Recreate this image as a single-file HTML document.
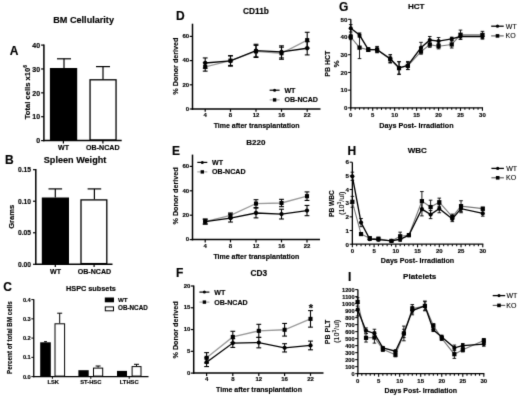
<!DOCTYPE html>
<html><head><meta charset="utf-8"><style>
html,body{margin:0;padding:0;background:#fff;}
svg{display:block;font-family:"Liberation Sans", sans-serif;}
text{font-weight:bold;fill:#000;stroke:#000;stroke-width:0.15;}
line,polyline{stroke:#000;}
.f{fill:#000;}
</style></head><body>
<svg xmlns="http://www.w3.org/2000/svg" width="520" height="397" viewBox="0 0 520 397">
<defs><filter id="bl" x="0" y="0" width="520" height="397" filterUnits="userSpaceOnUse" color-interpolation-filters="sRGB"><feConvolveMatrix order="3" kernelMatrix="0.01134 0.08382 0.01134 0.08382 0.61935 0.08382 0.01134 0.08382 0.01134" edgeMode="duplicate" preserveAlpha="true"/></filter></defs>
<rect width="520" height="397" fill="#fff"/>
<g filter="url(#bl)">
<rect width="520" height="397" fill="#fff"/>
<text x="9.70" y="55.20" font-size="12">A</text>
<text x="53.30" y="23.10" font-size="9.1">BM Cellularity</text>
<line x1="43.90" y1="44.40" x2="43.90" y2="141.35" stroke-width="1.5"/>
<line x1="43.15" y1="140.60" x2="121.70" y2="140.60" stroke-width="1.5"/>
<line x1="41.10" y1="140.60" x2="43.90" y2="140.60" stroke-width="1.2"/>
<text x="40.10" y="143.30" font-size="7.0" text-anchor="end">0</text>
<line x1="41.10" y1="116.72" x2="43.90" y2="116.72" stroke-width="1.2"/>
<text x="40.10" y="119.42" font-size="7.0" text-anchor="end">10</text>
<line x1="41.10" y1="92.85" x2="43.90" y2="92.85" stroke-width="1.2"/>
<text x="40.10" y="95.55" font-size="7.0" text-anchor="end">20</text>
<line x1="41.10" y1="68.97" x2="43.90" y2="68.97" stroke-width="1.2"/>
<text x="40.10" y="71.67" font-size="7.0" text-anchor="end">30</text>
<line x1="41.10" y1="45.10" x2="43.90" y2="45.10" stroke-width="1.2"/>
<text x="40.10" y="47.80" font-size="7.0" text-anchor="end">40</text>
<line x1="64.00" y1="58.80" x2="64.00" y2="68.10" stroke-width="1.2"/>
<line x1="57.00" y1="58.80" x2="71.00" y2="58.80" stroke-width="1.2"/>
<rect x="49.90" y="68.00" width="27.30" height="72.60" class="f"/>
<line x1="103.00" y1="66.60" x2="103.00" y2="79.40" stroke-width="1.2"/>
<line x1="96.00" y1="66.60" x2="110.00" y2="66.60" stroke-width="1.2"/>
<rect x="90.05" y="79.80" width="26.00" height="60.10" fill="#fff" stroke="#000" stroke-width="1.3"/>
<line x1="63.40" y1="140.60" x2="63.40" y2="143.40" stroke-width="1.2"/>
<line x1="102.90" y1="140.60" x2="102.90" y2="143.40" stroke-width="1.2"/>
<text x="63.60" y="149.90" font-size="7.1" text-anchor="middle">WT</text>
<text x="102.80" y="149.90" font-size="7.1" text-anchor="middle">OB-NCAD</text>
<text x="29.60" y="119.20" font-size="7.6" transform="rotate(-90 29.6 119.2)">Total cells x10<tspan dy="-2.9" font-size="5.0">6</tspan></text>
<text x="5.10" y="163.70" font-size="12">B</text>
<text x="43.80" y="162.80" font-size="9.1">Spleen Weight</text>
<line x1="35.80" y1="169.00" x2="35.80" y2="265.05" stroke-width="1.5"/>
<line x1="35.05" y1="264.30" x2="112.50" y2="264.30" stroke-width="1.5"/>
<line x1="33.00" y1="264.30" x2="35.80" y2="264.30" stroke-width="1.2"/>
<text x="31.00" y="266.70" font-size="6.7" text-anchor="end">0.00</text>
<line x1="33.00" y1="232.77" x2="35.80" y2="232.77" stroke-width="1.2"/>
<text x="31.00" y="235.17" font-size="6.7" text-anchor="end">0.05</text>
<line x1="33.00" y1="201.23" x2="35.80" y2="201.23" stroke-width="1.2"/>
<text x="31.00" y="203.63" font-size="6.7" text-anchor="end">0.10</text>
<line x1="33.00" y1="169.69" x2="35.80" y2="169.69" stroke-width="1.2"/>
<text x="31.00" y="172.09" font-size="6.7" text-anchor="end">0.15</text>
<line x1="55.30" y1="188.90" x2="55.30" y2="197.50" stroke-width="1.2"/>
<line x1="48.50" y1="188.90" x2="62.10" y2="188.90" stroke-width="1.2"/>
<rect x="41.80" y="197.50" width="27.20" height="66.80" class="f"/>
<line x1="94.40" y1="188.90" x2="94.40" y2="199.30" stroke-width="1.2"/>
<line x1="87.60" y1="188.90" x2="101.20" y2="188.90" stroke-width="1.2"/>
<rect x="81.00" y="199.90" width="25.80" height="63.70" fill="#fff" stroke="#000" stroke-width="1.3"/>
<line x1="55.30" y1="264.30" x2="55.30" y2="267.10" stroke-width="1.2"/>
<line x1="94.10" y1="264.30" x2="94.10" y2="267.10" stroke-width="1.2"/>
<text x="55.50" y="273.70" font-size="7.1" text-anchor="middle">WT</text>
<text x="94.40" y="273.70" font-size="7.1" text-anchor="middle">OB-NCAD</text>
<text x="14.40" y="216.80" font-size="7.6" text-anchor="middle" transform="rotate(-90 14.4 216.8)">Grams</text>
<text x="3.20" y="290.80" font-size="12">C</text>
<text x="66.00" y="291.00" font-size="7.3">HSPC subsets</text>
<line x1="33.75" y1="299.30" x2="33.75" y2="377.20" stroke-width="1.3"/>
<line x1="33.15" y1="376.60" x2="148.50" y2="376.60" stroke-width="1.3"/>
<line x1="31.35" y1="376.60" x2="33.75" y2="376.60" stroke-width="1.0"/>
<text x="30.80" y="378.60" font-size="5.7" text-anchor="end">0.0</text>
<line x1="31.35" y1="357.35" x2="33.75" y2="357.35" stroke-width="1.0"/>
<text x="30.80" y="359.35" font-size="5.7" text-anchor="end">0.1</text>
<line x1="31.35" y1="338.10" x2="33.75" y2="338.10" stroke-width="1.0"/>
<text x="30.80" y="340.10" font-size="5.7" text-anchor="end">0.2</text>
<line x1="31.35" y1="318.85" x2="33.75" y2="318.85" stroke-width="1.0"/>
<text x="30.80" y="320.85" font-size="5.7" text-anchor="end">0.3</text>
<line x1="31.35" y1="299.60" x2="33.75" y2="299.60" stroke-width="1.0"/>
<text x="30.80" y="301.60" font-size="5.7" text-anchor="end">0.4</text>
<line x1="45.50" y1="341.60" x2="45.50" y2="342.30" stroke-width="0.9"/>
<line x1="44.00" y1="341.60" x2="47.00" y2="341.60" stroke-width="0.9"/>
<rect x="40.20" y="342.30" width="10.60" height="34.30" class="f"/>
<line x1="59.70" y1="313.20" x2="59.70" y2="323.30" stroke-width="1.0"/>
<line x1="57.20" y1="313.20" x2="62.20" y2="313.20" stroke-width="1.0"/>
<rect x="55.00" y="323.80" width="9.60" height="52.30" fill="#fff" stroke="#000" stroke-width="1.0"/>
<rect x="78.40" y="370.20" width="10.30" height="6.40" class="f"/>
<line x1="98.10" y1="366.00" x2="98.10" y2="367.60" stroke-width="1.0"/>
<line x1="95.60" y1="366.00" x2="100.60" y2="366.00" stroke-width="1.0"/>
<rect x="93.50" y="368.10" width="9.20" height="8.00" fill="#fff" stroke="#000" stroke-width="1.0"/>
<rect x="117.00" y="370.90" width="10.00" height="5.70" class="f"/>
<line x1="136.50" y1="364.30" x2="136.50" y2="366.10" stroke-width="1.0"/>
<line x1="134.00" y1="364.30" x2="139.00" y2="364.30" stroke-width="1.0"/>
<rect x="132.10" y="366.60" width="8.90" height="9.50" fill="#fff" stroke="#000" stroke-width="1.0"/>
<line x1="52.40" y1="376.60" x2="52.40" y2="378.80" stroke-width="1.0"/>
<line x1="90.80" y1="376.60" x2="90.80" y2="378.80" stroke-width="1.0"/>
<line x1="129.20" y1="376.60" x2="129.20" y2="378.80" stroke-width="1.0"/>
<text x="53.20" y="384.20" font-size="5.8" text-anchor="middle">LSK</text>
<text x="90.80" y="384.20" font-size="5.8" text-anchor="middle">ST-HSC</text>
<text x="129.20" y="384.20" font-size="5.8" text-anchor="middle">LTHSC</text>
<rect x="104.80" y="297.50" width="9.20" height="4.80" class="f"/>
<rect x="105.30" y="306.90" width="8.20" height="3.90" fill="#fff" stroke="#000" stroke-width="1.0"/>
<text x="118.00" y="301.50" font-size="6.2">WT</text>
<text x="118.00" y="310.30" font-size="6.3">OB-NCAD</text>
<text x="12.20" y="337.60" font-size="6.27" text-anchor="middle" transform="rotate(-90 12.2 337.6)">Percent of total BM cells</text>
<text x="176.00" y="19.60" font-size="12">D</text>
<text x="256.00" y="13.90" font-size="8.3" text-anchor="middle">CD11b</text>
<line x1="192.50" y1="23.70" x2="192.50" y2="109.75" stroke-width="1.5"/>
<line x1="191.75" y1="109.00" x2="320.50" y2="109.00" stroke-width="1.5"/>
<line x1="189.70" y1="109.00" x2="192.50" y2="109.00" stroke-width="1.2"/>
<text x="189.20" y="110.70" font-size="6.0" text-anchor="end">0</text>
<line x1="189.70" y1="84.80" x2="192.50" y2="84.80" stroke-width="1.2"/>
<text x="189.20" y="86.50" font-size="6.0" text-anchor="end">20</text>
<line x1="189.70" y1="60.60" x2="192.50" y2="60.60" stroke-width="1.2"/>
<text x="189.20" y="62.30" font-size="6.0" text-anchor="end">40</text>
<line x1="189.70" y1="36.40" x2="192.50" y2="36.40" stroke-width="1.2"/>
<text x="189.20" y="38.10" font-size="6.0" text-anchor="end">60</text>
<line x1="205.20" y1="109.00" x2="205.20" y2="111.80" stroke-width="1.2"/>
<text x="205.20" y="117.10" font-size="6.0" text-anchor="middle">4</text>
<line x1="230.50" y1="109.00" x2="230.50" y2="111.80" stroke-width="1.2"/>
<text x="230.50" y="117.10" font-size="6.0" text-anchor="middle">8</text>
<line x1="256.00" y1="109.00" x2="256.00" y2="111.80" stroke-width="1.2"/>
<text x="256.00" y="117.10" font-size="6.0" text-anchor="middle">12</text>
<line x1="281.50" y1="109.00" x2="281.50" y2="111.80" stroke-width="1.2"/>
<text x="281.50" y="117.10" font-size="6.0" text-anchor="middle">16</text>
<line x1="307.20" y1="109.00" x2="307.20" y2="111.80" stroke-width="1.2"/>
<text x="307.20" y="117.10" font-size="6.0" text-anchor="middle">22</text>
<line x1="205.20" y1="62.66" x2="205.20" y2="71.13" stroke-width="1.1"/>
<line x1="202.80" y1="62.66" x2="207.60" y2="62.66" stroke-width="1.1"/>
<line x1="202.80" y1="71.13" x2="207.60" y2="71.13" stroke-width="1.1"/>
<line x1="205.20" y1="57.94" x2="205.20" y2="68.10" stroke-width="1.1"/>
<line x1="202.80" y1="57.94" x2="207.60" y2="57.94" stroke-width="1.1"/>
<line x1="202.80" y1="68.10" x2="207.60" y2="68.10" stroke-width="1.1"/>
<line x1="230.50" y1="55.76" x2="230.50" y2="65.44" stroke-width="1.1"/>
<line x1="228.10" y1="55.76" x2="232.90" y2="55.76" stroke-width="1.1"/>
<line x1="228.10" y1="65.44" x2="232.90" y2="65.44" stroke-width="1.1"/>
<line x1="230.50" y1="55.76" x2="230.50" y2="66.17" stroke-width="1.1"/>
<line x1="228.10" y1="55.76" x2="232.90" y2="55.76" stroke-width="1.1"/>
<line x1="228.10" y1="66.17" x2="232.90" y2="66.17" stroke-width="1.1"/>
<line x1="256.00" y1="45.35" x2="256.00" y2="57.45" stroke-width="1.1"/>
<line x1="253.60" y1="45.35" x2="258.40" y2="45.35" stroke-width="1.1"/>
<line x1="253.60" y1="57.45" x2="258.40" y2="57.45" stroke-width="1.1"/>
<line x1="256.00" y1="44.27" x2="256.00" y2="56.85" stroke-width="1.1"/>
<line x1="253.60" y1="44.27" x2="258.40" y2="44.27" stroke-width="1.1"/>
<line x1="253.60" y1="56.85" x2="258.40" y2="56.85" stroke-width="1.1"/>
<line x1="281.50" y1="47.17" x2="281.50" y2="59.27" stroke-width="1.1"/>
<line x1="279.10" y1="47.17" x2="283.90" y2="47.17" stroke-width="1.1"/>
<line x1="279.10" y1="59.27" x2="283.90" y2="59.27" stroke-width="1.1"/>
<line x1="281.50" y1="45.84" x2="281.50" y2="57.94" stroke-width="1.1"/>
<line x1="279.10" y1="45.84" x2="283.90" y2="45.84" stroke-width="1.1"/>
<line x1="279.10" y1="57.94" x2="283.90" y2="57.94" stroke-width="1.1"/>
<line x1="307.20" y1="32.29" x2="307.20" y2="48.02" stroke-width="1.1"/>
<line x1="304.80" y1="32.29" x2="309.60" y2="32.29" stroke-width="1.1"/>
<line x1="304.80" y1="48.02" x2="309.60" y2="48.02" stroke-width="1.1"/>
<line x1="307.20" y1="41.60" x2="307.20" y2="54.91" stroke-width="1.1"/>
<line x1="304.80" y1="41.60" x2="309.60" y2="41.60" stroke-width="1.1"/>
<line x1="304.80" y1="54.91" x2="309.60" y2="54.91" stroke-width="1.1"/>
<polyline points="205.20,66.89 230.50,60.60 256.00,51.40 281.50,53.22 307.20,40.15" stroke-width="1.3" style="stroke:#999" fill="none"/>
<polyline points="205.20,63.02 230.50,60.96 256.00,50.56 281.50,51.89 307.20,48.26" stroke-width="1.35" fill="none"/>
<rect x="203.15" y="64.84" width="4.1" height="4.1" class="f"/>
<rect x="228.45" y="58.55" width="4.1" height="4.1" class="f"/>
<rect x="253.95" y="49.35" width="4.1" height="4.1" class="f"/>
<rect x="279.45" y="51.17" width="4.1" height="4.1" class="f"/>
<rect x="305.15" y="38.10" width="4.1" height="4.1" class="f"/>
<circle cx="205.20" cy="63.02" r="2.15" class="f"/>
<circle cx="230.50" cy="60.96" r="2.15" class="f"/>
<circle cx="256.00" cy="50.56" r="2.15" class="f"/>
<circle cx="281.50" cy="51.89" r="2.15" class="f"/>
<circle cx="307.20" cy="48.26" r="2.15" class="f"/>
<text x="256.60" y="127.70" font-size="7.0" text-anchor="middle">Time after transplantation</text>
<text x="178.30" y="66.10" font-size="7.2" text-anchor="middle" transform="rotate(-90 178.3 66.1)">% Donor derived</text>
<line x1="269.60" y1="90.20" x2="279.60" y2="90.20" stroke-width="1.2"/>
<circle cx="274.60" cy="90.20" r="1.5" class="f"/>
<line x1="269.60" y1="99.90" x2="279.60" y2="99.90" stroke-width="1.0" style="stroke:#999"/>
<rect x="272.90" y="98.20" width="3.4" height="3.4" class="f"/>
<text x="284.40" y="92.60" font-size="7.1">WT</text>
<text x="284.40" y="102.30" font-size="7.1">OB-NCAD</text>
<text x="171.90" y="154.70" font-size="12">E</text>
<text x="255.90" y="144.80" font-size="8.0" text-anchor="middle">B220</text>
<line x1="192.50" y1="154.60" x2="192.50" y2="240.35" stroke-width="1.5"/>
<line x1="191.75" y1="239.60" x2="320.00" y2="239.60" stroke-width="1.5"/>
<line x1="189.70" y1="239.60" x2="192.50" y2="239.60" stroke-width="1.2"/>
<text x="189.20" y="241.30" font-size="6.0" text-anchor="end">0</text>
<line x1="189.70" y1="215.20" x2="192.50" y2="215.20" stroke-width="1.2"/>
<text x="189.20" y="216.90" font-size="6.0" text-anchor="end">20</text>
<line x1="189.70" y1="190.80" x2="192.50" y2="190.80" stroke-width="1.2"/>
<text x="189.20" y="192.50" font-size="6.0" text-anchor="end">40</text>
<line x1="189.70" y1="166.40" x2="192.50" y2="166.40" stroke-width="1.2"/>
<text x="189.20" y="168.10" font-size="6.0" text-anchor="end">60</text>
<line x1="205.20" y1="239.60" x2="205.20" y2="242.40" stroke-width="1.2"/>
<text x="205.20" y="247.70" font-size="6.0" text-anchor="middle">4</text>
<line x1="230.50" y1="239.60" x2="230.50" y2="242.40" stroke-width="1.2"/>
<text x="230.50" y="247.70" font-size="6.0" text-anchor="middle">8</text>
<line x1="256.00" y1="239.60" x2="256.00" y2="242.40" stroke-width="1.2"/>
<text x="256.00" y="247.70" font-size="6.0" text-anchor="middle">12</text>
<line x1="281.50" y1="239.60" x2="281.50" y2="242.40" stroke-width="1.2"/>
<text x="281.50" y="247.70" font-size="6.0" text-anchor="middle">16</text>
<line x1="307.00" y1="239.60" x2="307.00" y2="242.40" stroke-width="1.2"/>
<text x="307.00" y="247.70" font-size="6.0" text-anchor="middle">22</text>
<line x1="205.20" y1="219.16" x2="205.20" y2="224.04" stroke-width="1.1"/>
<line x1="202.80" y1="219.16" x2="207.60" y2="219.16" stroke-width="1.1"/>
<line x1="202.80" y1="224.04" x2="207.60" y2="224.04" stroke-width="1.1"/>
<line x1="205.20" y1="219.16" x2="205.20" y2="224.04" stroke-width="1.1"/>
<line x1="202.80" y1="219.16" x2="207.60" y2="219.16" stroke-width="1.1"/>
<line x1="202.80" y1="224.04" x2="207.60" y2="224.04" stroke-width="1.1"/>
<line x1="230.50" y1="213.00" x2="230.50" y2="217.88" stroke-width="1.1"/>
<line x1="228.10" y1="213.00" x2="232.90" y2="213.00" stroke-width="1.1"/>
<line x1="228.10" y1="217.88" x2="232.90" y2="217.88" stroke-width="1.1"/>
<line x1="230.50" y1="214.22" x2="230.50" y2="222.03" stroke-width="1.1"/>
<line x1="228.10" y1="214.22" x2="232.90" y2="214.22" stroke-width="1.1"/>
<line x1="228.10" y1="222.03" x2="232.90" y2="222.03" stroke-width="1.1"/>
<line x1="256.00" y1="199.71" x2="256.00" y2="207.51" stroke-width="1.1"/>
<line x1="253.60" y1="199.71" x2="258.40" y2="199.71" stroke-width="1.1"/>
<line x1="253.60" y1="207.51" x2="258.40" y2="207.51" stroke-width="1.1"/>
<line x1="256.00" y1="208.12" x2="256.00" y2="217.88" stroke-width="1.1"/>
<line x1="253.60" y1="208.12" x2="258.40" y2="208.12" stroke-width="1.1"/>
<line x1="253.60" y1="217.88" x2="258.40" y2="217.88" stroke-width="1.1"/>
<line x1="281.50" y1="199.34" x2="281.50" y2="206.66" stroke-width="1.1"/>
<line x1="279.10" y1="199.34" x2="283.90" y2="199.34" stroke-width="1.1"/>
<line x1="279.10" y1="206.66" x2="283.90" y2="206.66" stroke-width="1.1"/>
<line x1="281.50" y1="209.22" x2="281.50" y2="218.98" stroke-width="1.1"/>
<line x1="279.10" y1="209.22" x2="283.90" y2="209.22" stroke-width="1.1"/>
<line x1="279.10" y1="218.98" x2="283.90" y2="218.98" stroke-width="1.1"/>
<line x1="307.00" y1="191.90" x2="307.00" y2="200.44" stroke-width="1.1"/>
<line x1="304.60" y1="191.90" x2="309.40" y2="191.90" stroke-width="1.1"/>
<line x1="304.60" y1="200.44" x2="309.40" y2="200.44" stroke-width="1.1"/>
<line x1="307.00" y1="205.44" x2="307.00" y2="215.69" stroke-width="1.1"/>
<line x1="304.60" y1="205.44" x2="309.40" y2="205.44" stroke-width="1.1"/>
<line x1="304.60" y1="215.69" x2="309.40" y2="215.69" stroke-width="1.1"/>
<polyline points="205.20,221.60 230.50,215.44 256.00,203.61 281.50,203.00 307.00,196.17" stroke-width="1.3" style="stroke:#999" fill="none"/>
<polyline points="205.20,221.60 230.50,218.13 256.00,213.00 281.50,214.10 307.00,210.56" stroke-width="1.35" fill="none"/>
<rect x="203.15" y="219.55" width="4.1" height="4.1" class="f"/>
<rect x="228.45" y="213.39" width="4.1" height="4.1" class="f"/>
<rect x="253.95" y="201.56" width="4.1" height="4.1" class="f"/>
<rect x="279.45" y="200.95" width="4.1" height="4.1" class="f"/>
<rect x="304.95" y="194.12" width="4.1" height="4.1" class="f"/>
<circle cx="205.20" cy="221.60" r="2.15" class="f"/>
<circle cx="230.50" cy="218.13" r="2.15" class="f"/>
<circle cx="256.00" cy="213.00" r="2.15" class="f"/>
<circle cx="281.50" cy="214.10" r="2.15" class="f"/>
<circle cx="307.00" cy="210.56" r="2.15" class="f"/>
<text x="256.30" y="258.80" font-size="7.0" text-anchor="middle">Time after transplantation</text>
<text x="178.30" y="195.90" font-size="7.2" text-anchor="middle" transform="rotate(-90 178.3 195.9)">% Donor derived</text>
<line x1="197.30" y1="162.40" x2="207.30" y2="162.40" stroke-width="1.2"/>
<circle cx="202.30" cy="162.40" r="1.5" class="f"/>
<line x1="197.30" y1="171.90" x2="207.30" y2="171.90" stroke-width="1.0" style="stroke:#999"/>
<rect x="200.60" y="170.20" width="3.4" height="3.4" class="f"/>
<text x="212.10" y="164.80" font-size="7.1">WT</text>
<text x="212.10" y="174.30" font-size="7.1">OB-NCAD</text>
<text x="175.90" y="276.70" font-size="12">F</text>
<text x="258.80" y="275.70" font-size="8.3" text-anchor="middle">CD3</text>
<line x1="193.70" y1="285.50" x2="193.70" y2="373.85" stroke-width="1.5"/>
<line x1="192.95" y1="373.10" x2="323.50" y2="373.10" stroke-width="1.5"/>
<line x1="190.90" y1="373.10" x2="193.70" y2="373.10" stroke-width="1.2"/>
<text x="190.40" y="374.80" font-size="6.0" text-anchor="end">0</text>
<line x1="190.90" y1="351.33" x2="193.70" y2="351.33" stroke-width="1.2"/>
<text x="190.40" y="353.03" font-size="6.0" text-anchor="end">5</text>
<line x1="190.90" y1="329.55" x2="193.70" y2="329.55" stroke-width="1.2"/>
<text x="190.40" y="331.25" font-size="6.0" text-anchor="end">10</text>
<line x1="190.90" y1="307.78" x2="193.70" y2="307.78" stroke-width="1.2"/>
<text x="190.40" y="309.48" font-size="6.0" text-anchor="end">15</text>
<line x1="190.90" y1="286.00" x2="193.70" y2="286.00" stroke-width="1.2"/>
<text x="190.40" y="287.70" font-size="6.0" text-anchor="end">20</text>
<line x1="206.60" y1="373.10" x2="206.60" y2="375.90" stroke-width="1.2"/>
<text x="206.60" y="381.20" font-size="6.0" text-anchor="middle">4</text>
<line x1="232.80" y1="373.10" x2="232.80" y2="375.90" stroke-width="1.2"/>
<text x="232.80" y="381.20" font-size="6.0" text-anchor="middle">8</text>
<line x1="258.80" y1="373.10" x2="258.80" y2="375.90" stroke-width="1.2"/>
<text x="258.80" y="381.20" font-size="6.0" text-anchor="middle">12</text>
<line x1="284.60" y1="373.10" x2="284.60" y2="375.90" stroke-width="1.2"/>
<text x="284.60" y="381.20" font-size="6.0" text-anchor="middle">16</text>
<line x1="310.50" y1="373.10" x2="310.50" y2="375.90" stroke-width="1.2"/>
<text x="310.50" y="381.20" font-size="6.0" text-anchor="middle">22</text>
<line x1="206.60" y1="352.63" x2="206.60" y2="363.08" stroke-width="1.1"/>
<line x1="204.20" y1="352.63" x2="209.00" y2="352.63" stroke-width="1.1"/>
<line x1="204.20" y1="363.08" x2="209.00" y2="363.08" stroke-width="1.1"/>
<line x1="206.60" y1="357.86" x2="206.60" y2="366.57" stroke-width="1.1"/>
<line x1="204.20" y1="357.86" x2="209.00" y2="357.86" stroke-width="1.1"/>
<line x1="204.20" y1="366.57" x2="209.00" y2="366.57" stroke-width="1.1"/>
<line x1="232.80" y1="331.29" x2="232.80" y2="342.62" stroke-width="1.1"/>
<line x1="230.40" y1="331.29" x2="235.20" y2="331.29" stroke-width="1.1"/>
<line x1="230.40" y1="342.62" x2="235.20" y2="342.62" stroke-width="1.1"/>
<line x1="232.80" y1="338.70" x2="232.80" y2="347.41" stroke-width="1.1"/>
<line x1="230.40" y1="338.70" x2="235.20" y2="338.70" stroke-width="1.1"/>
<line x1="230.40" y1="347.41" x2="235.20" y2="347.41" stroke-width="1.1"/>
<line x1="258.80" y1="324.32" x2="258.80" y2="337.39" stroke-width="1.1"/>
<line x1="256.40" y1="324.32" x2="261.20" y2="324.32" stroke-width="1.1"/>
<line x1="256.40" y1="337.39" x2="261.20" y2="337.39" stroke-width="1.1"/>
<line x1="258.80" y1="337.39" x2="258.80" y2="347.84" stroke-width="1.1"/>
<line x1="256.40" y1="337.39" x2="261.20" y2="337.39" stroke-width="1.1"/>
<line x1="256.40" y1="347.84" x2="261.20" y2="347.84" stroke-width="1.1"/>
<line x1="284.60" y1="323.45" x2="284.60" y2="336.08" stroke-width="1.1"/>
<line x1="282.20" y1="323.45" x2="287.00" y2="323.45" stroke-width="1.1"/>
<line x1="282.20" y1="336.08" x2="287.00" y2="336.08" stroke-width="1.1"/>
<line x1="284.60" y1="343.70" x2="284.60" y2="351.98" stroke-width="1.1"/>
<line x1="282.20" y1="343.70" x2="287.00" y2="343.70" stroke-width="1.1"/>
<line x1="282.20" y1="351.98" x2="287.00" y2="351.98" stroke-width="1.1"/>
<line x1="310.50" y1="310.61" x2="310.50" y2="327.15" stroke-width="1.1"/>
<line x1="308.10" y1="310.61" x2="312.90" y2="310.61" stroke-width="1.1"/>
<line x1="308.10" y1="327.15" x2="312.90" y2="327.15" stroke-width="1.1"/>
<line x1="310.50" y1="341.09" x2="310.50" y2="349.80" stroke-width="1.1"/>
<line x1="308.10" y1="341.09" x2="312.90" y2="341.09" stroke-width="1.1"/>
<line x1="308.10" y1="349.80" x2="312.90" y2="349.80" stroke-width="1.1"/>
<polyline points="206.60,357.86 232.80,336.95 258.80,330.86 284.60,329.77 310.50,318.88" stroke-width="1.3" style="stroke:#999" fill="none"/>
<polyline points="206.60,362.21 232.80,343.05 258.80,342.62 284.60,347.84 310.50,345.45" stroke-width="1.35" fill="none"/>
<rect x="204.55" y="355.81" width="4.1" height="4.1" class="f"/>
<rect x="230.75" y="334.90" width="4.1" height="4.1" class="f"/>
<rect x="256.75" y="328.81" width="4.1" height="4.1" class="f"/>
<rect x="282.55" y="327.72" width="4.1" height="4.1" class="f"/>
<rect x="308.45" y="316.83" width="4.1" height="4.1" class="f"/>
<circle cx="206.60" cy="362.21" r="2.15" class="f"/>
<circle cx="232.80" cy="343.05" r="2.15" class="f"/>
<circle cx="258.80" cy="342.62" r="2.15" class="f"/>
<circle cx="284.60" cy="347.84" r="2.15" class="f"/>
<circle cx="310.50" cy="345.45" r="2.15" class="f"/>
<text x="259.00" y="392.10" font-size="7.0" text-anchor="middle">Time after transplantation</text>
<text x="178.50" y="329.90" font-size="7.2" text-anchor="middle" transform="rotate(-90 178.5 329.9)">% Donor derived</text>
<line x1="199.40" y1="292.10" x2="209.40" y2="292.10" stroke-width="1.2"/>
<circle cx="204.40" cy="292.10" r="1.5" class="f"/>
<line x1="199.40" y1="302.10" x2="209.40" y2="302.10" stroke-width="1.0" style="stroke:#999"/>
<rect x="202.70" y="300.40" width="3.4" height="3.4" class="f"/>
<text x="214.20" y="294.50" font-size="7.1">WT</text>
<text x="214.20" y="304.50" font-size="7.1">OB-NCAD</text>
<text x="310.90" y="311.80" font-size="11" text-anchor="middle">*</text>
<text x="338.90" y="10.90" font-size="12">G</text>
<text x="416.20" y="8.85" font-size="8.1" text-anchor="middle">HCT</text>
<line x1="350.80" y1="19.30" x2="350.80" y2="108.45" stroke-width="1.3"/>
<line x1="350.20" y1="107.85" x2="483.05" y2="107.85" stroke-width="1.3"/>
<line x1="348.10" y1="107.85" x2="350.80" y2="107.85" stroke-width="1.05"/>
<text x="347.40" y="110.15" font-size="6.2" text-anchor="end">0</text>
<line x1="348.10" y1="90.14" x2="350.80" y2="90.14" stroke-width="1.05"/>
<text x="347.40" y="92.44" font-size="6.2" text-anchor="end">10</text>
<line x1="348.10" y1="72.43" x2="350.80" y2="72.43" stroke-width="1.05"/>
<text x="347.40" y="74.73" font-size="6.2" text-anchor="end">20</text>
<line x1="348.10" y1="54.72" x2="350.80" y2="54.72" stroke-width="1.05"/>
<text x="347.40" y="57.02" font-size="6.2" text-anchor="end">30</text>
<line x1="348.10" y1="37.01" x2="350.80" y2="37.01" stroke-width="1.05"/>
<text x="347.40" y="39.31" font-size="6.2" text-anchor="end">40</text>
<line x1="348.10" y1="19.30" x2="350.80" y2="19.30" stroke-width="1.05"/>
<text x="347.40" y="21.60" font-size="6.2" text-anchor="end">50</text>
<line x1="350.75" y1="107.85" x2="350.75" y2="110.85" stroke-width="1.1"/>
<text x="350.75" y="116.85" font-size="6.0" text-anchor="middle">0</text>
<line x1="355.14" y1="107.85" x2="355.14" y2="109.85" stroke-width="1.05"/>
<line x1="359.53" y1="107.85" x2="359.53" y2="109.85" stroke-width="1.05"/>
<line x1="363.92" y1="107.85" x2="363.92" y2="109.85" stroke-width="1.05"/>
<line x1="368.31" y1="107.85" x2="368.31" y2="109.85" stroke-width="1.05"/>
<line x1="372.70" y1="107.85" x2="372.70" y2="110.85" stroke-width="1.1"/>
<text x="372.70" y="116.85" font-size="6.0" text-anchor="middle">5</text>
<line x1="377.09" y1="107.85" x2="377.09" y2="109.85" stroke-width="1.05"/>
<line x1="381.48" y1="107.85" x2="381.48" y2="109.85" stroke-width="1.05"/>
<line x1="385.87" y1="107.85" x2="385.87" y2="109.85" stroke-width="1.05"/>
<line x1="390.26" y1="107.85" x2="390.26" y2="109.85" stroke-width="1.05"/>
<line x1="394.65" y1="107.85" x2="394.65" y2="110.85" stroke-width="1.1"/>
<text x="394.65" y="116.85" font-size="6.0" text-anchor="middle">10</text>
<line x1="399.04" y1="107.85" x2="399.04" y2="109.85" stroke-width="1.05"/>
<line x1="403.43" y1="107.85" x2="403.43" y2="109.85" stroke-width="1.05"/>
<line x1="407.82" y1="107.85" x2="407.82" y2="109.85" stroke-width="1.05"/>
<line x1="412.21" y1="107.85" x2="412.21" y2="109.85" stroke-width="1.05"/>
<line x1="416.60" y1="107.85" x2="416.60" y2="110.85" stroke-width="1.1"/>
<text x="416.60" y="116.85" font-size="6.0" text-anchor="middle">15</text>
<line x1="420.99" y1="107.85" x2="420.99" y2="109.85" stroke-width="1.05"/>
<line x1="425.38" y1="107.85" x2="425.38" y2="109.85" stroke-width="1.05"/>
<line x1="429.77" y1="107.85" x2="429.77" y2="109.85" stroke-width="1.05"/>
<line x1="434.16" y1="107.85" x2="434.16" y2="109.85" stroke-width="1.05"/>
<line x1="438.55" y1="107.85" x2="438.55" y2="110.85" stroke-width="1.1"/>
<text x="438.55" y="116.85" font-size="6.0" text-anchor="middle">20</text>
<line x1="442.94" y1="107.85" x2="442.94" y2="109.85" stroke-width="1.05"/>
<line x1="447.33" y1="107.85" x2="447.33" y2="109.85" stroke-width="1.05"/>
<line x1="451.72" y1="107.85" x2="451.72" y2="109.85" stroke-width="1.05"/>
<line x1="456.11" y1="107.85" x2="456.11" y2="109.85" stroke-width="1.05"/>
<line x1="460.50" y1="107.85" x2="460.50" y2="110.85" stroke-width="1.1"/>
<text x="460.50" y="116.85" font-size="6.0" text-anchor="middle">25</text>
<line x1="464.89" y1="107.85" x2="464.89" y2="109.85" stroke-width="1.05"/>
<line x1="469.28" y1="107.85" x2="469.28" y2="109.85" stroke-width="1.05"/>
<line x1="473.67" y1="107.85" x2="473.67" y2="109.85" stroke-width="1.05"/>
<line x1="478.06" y1="107.85" x2="478.06" y2="109.85" stroke-width="1.05"/>
<line x1="482.45" y1="107.85" x2="482.45" y2="110.85" stroke-width="1.1"/>
<text x="482.45" y="116.85" font-size="6.0" text-anchor="middle">30</text>
<line x1="350.75" y1="34.35" x2="350.75" y2="39.67" stroke-width="0.9"/>
<line x1="348.95" y1="34.35" x2="352.55" y2="34.35" stroke-width="0.9"/>
<line x1="348.95" y1="39.67" x2="352.55" y2="39.67" stroke-width="0.9"/>
<line x1="350.75" y1="24.61" x2="350.75" y2="32.05" stroke-width="0.9"/>
<line x1="348.95" y1="24.61" x2="352.55" y2="24.61" stroke-width="0.9"/>
<line x1="348.95" y1="32.05" x2="352.55" y2="32.05" stroke-width="0.9"/>
<line x1="359.53" y1="36.66" x2="359.53" y2="58.62" stroke-width="0.9"/>
<line x1="357.73" y1="36.66" x2="361.33" y2="36.66" stroke-width="0.9"/>
<line x1="357.73" y1="58.62" x2="361.33" y2="58.62" stroke-width="0.9"/>
<line x1="359.53" y1="32.94" x2="359.53" y2="37.19" stroke-width="0.9"/>
<line x1="357.73" y1="32.94" x2="361.33" y2="32.94" stroke-width="0.9"/>
<line x1="357.73" y1="37.19" x2="361.33" y2="37.19" stroke-width="0.9"/>
<line x1="368.31" y1="47.99" x2="368.31" y2="51.53" stroke-width="0.9"/>
<line x1="366.51" y1="47.99" x2="370.11" y2="47.99" stroke-width="0.9"/>
<line x1="366.51" y1="51.53" x2="370.11" y2="51.53" stroke-width="0.9"/>
<line x1="368.31" y1="47.81" x2="368.31" y2="51.36" stroke-width="0.9"/>
<line x1="366.51" y1="47.81" x2="370.11" y2="47.81" stroke-width="0.9"/>
<line x1="366.51" y1="51.36" x2="370.11" y2="51.36" stroke-width="0.9"/>
<line x1="377.09" y1="47.10" x2="377.09" y2="52.42" stroke-width="0.9"/>
<line x1="375.29" y1="47.10" x2="378.89" y2="47.10" stroke-width="0.9"/>
<line x1="375.29" y1="52.42" x2="378.89" y2="52.42" stroke-width="0.9"/>
<line x1="377.09" y1="46.40" x2="377.09" y2="52.77" stroke-width="0.9"/>
<line x1="375.29" y1="46.40" x2="378.89" y2="46.40" stroke-width="0.9"/>
<line x1="375.29" y1="52.77" x2="378.89" y2="52.77" stroke-width="0.9"/>
<line x1="390.26" y1="56.14" x2="390.26" y2="62.51" stroke-width="0.9"/>
<line x1="388.46" y1="56.14" x2="392.06" y2="56.14" stroke-width="0.9"/>
<line x1="388.46" y1="62.51" x2="392.06" y2="62.51" stroke-width="0.9"/>
<line x1="390.26" y1="54.54" x2="390.26" y2="63.04" stroke-width="0.9"/>
<line x1="388.46" y1="54.54" x2="392.06" y2="54.54" stroke-width="0.9"/>
<line x1="388.46" y1="63.04" x2="392.06" y2="63.04" stroke-width="0.9"/>
<line x1="399.04" y1="61.80" x2="399.04" y2="74.56" stroke-width="0.9"/>
<line x1="397.24" y1="61.80" x2="400.84" y2="61.80" stroke-width="0.9"/>
<line x1="397.24" y1="74.56" x2="400.84" y2="74.56" stroke-width="0.9"/>
<line x1="399.04" y1="61.63" x2="399.04" y2="74.02" stroke-width="0.9"/>
<line x1="397.24" y1="61.63" x2="400.84" y2="61.63" stroke-width="0.9"/>
<line x1="397.24" y1="74.02" x2="400.84" y2="74.02" stroke-width="0.9"/>
<line x1="407.82" y1="62.34" x2="407.82" y2="69.42" stroke-width="0.9"/>
<line x1="406.02" y1="62.34" x2="409.62" y2="62.34" stroke-width="0.9"/>
<line x1="406.02" y1="69.42" x2="409.62" y2="69.42" stroke-width="0.9"/>
<line x1="407.82" y1="61.45" x2="407.82" y2="69.60" stroke-width="0.9"/>
<line x1="406.02" y1="61.45" x2="409.62" y2="61.45" stroke-width="0.9"/>
<line x1="406.02" y1="69.60" x2="409.62" y2="69.60" stroke-width="0.9"/>
<line x1="420.99" y1="48.88" x2="420.99" y2="54.19" stroke-width="0.9"/>
<line x1="419.19" y1="48.88" x2="422.79" y2="48.88" stroke-width="0.9"/>
<line x1="419.19" y1="54.19" x2="422.79" y2="54.19" stroke-width="0.9"/>
<line x1="420.99" y1="42.32" x2="420.99" y2="52.95" stroke-width="0.9"/>
<line x1="419.19" y1="42.32" x2="422.79" y2="42.32" stroke-width="0.9"/>
<line x1="419.19" y1="52.95" x2="422.79" y2="52.95" stroke-width="0.9"/>
<line x1="429.77" y1="41.97" x2="429.77" y2="47.28" stroke-width="0.9"/>
<line x1="427.97" y1="41.97" x2="431.57" y2="41.97" stroke-width="0.9"/>
<line x1="427.97" y1="47.28" x2="431.57" y2="47.28" stroke-width="0.9"/>
<line x1="429.77" y1="36.48" x2="429.77" y2="43.56" stroke-width="0.9"/>
<line x1="427.97" y1="36.48" x2="431.57" y2="36.48" stroke-width="0.9"/>
<line x1="427.97" y1="43.56" x2="431.57" y2="43.56" stroke-width="0.9"/>
<line x1="438.55" y1="43.56" x2="438.55" y2="48.88" stroke-width="0.9"/>
<line x1="436.75" y1="43.56" x2="440.35" y2="43.56" stroke-width="0.9"/>
<line x1="436.75" y1="48.88" x2="440.35" y2="48.88" stroke-width="0.9"/>
<line x1="438.55" y1="37.54" x2="438.55" y2="44.63" stroke-width="0.9"/>
<line x1="436.75" y1="37.54" x2="440.35" y2="37.54" stroke-width="0.9"/>
<line x1="436.75" y1="44.63" x2="440.35" y2="44.63" stroke-width="0.9"/>
<line x1="451.72" y1="40.91" x2="451.72" y2="47.99" stroke-width="0.9"/>
<line x1="449.92" y1="40.91" x2="453.52" y2="40.91" stroke-width="0.9"/>
<line x1="449.92" y1="47.99" x2="453.52" y2="47.99" stroke-width="0.9"/>
<line x1="451.72" y1="37.19" x2="451.72" y2="40.73" stroke-width="0.9"/>
<line x1="449.92" y1="37.19" x2="453.52" y2="37.19" stroke-width="0.9"/>
<line x1="449.92" y1="40.73" x2="453.52" y2="40.73" stroke-width="0.9"/>
<line x1="460.50" y1="30.10" x2="460.50" y2="39.31" stroke-width="0.9"/>
<line x1="458.70" y1="30.10" x2="462.30" y2="30.10" stroke-width="0.9"/>
<line x1="458.70" y1="39.31" x2="462.30" y2="39.31" stroke-width="0.9"/>
<line x1="460.50" y1="33.82" x2="460.50" y2="39.14" stroke-width="0.9"/>
<line x1="458.70" y1="33.82" x2="462.30" y2="33.82" stroke-width="0.9"/>
<line x1="458.70" y1="39.14" x2="462.30" y2="39.14" stroke-width="0.9"/>
<line x1="482.45" y1="31.34" x2="482.45" y2="38.43" stroke-width="0.9"/>
<line x1="480.65" y1="31.34" x2="484.25" y2="31.34" stroke-width="0.9"/>
<line x1="480.65" y1="38.43" x2="484.25" y2="38.43" stroke-width="0.9"/>
<line x1="482.45" y1="33.82" x2="482.45" y2="39.14" stroke-width="0.9"/>
<line x1="480.65" y1="33.82" x2="484.25" y2="33.82" stroke-width="0.9"/>
<line x1="480.65" y1="39.14" x2="484.25" y2="39.14" stroke-width="0.9"/>
<polyline points="350.75,37.01 359.53,47.64 368.31,49.76 377.09,49.76 390.26,59.32 399.04,68.18 407.82,65.88 420.99,51.53 429.77,44.63 438.55,46.22 451.72,44.45 460.50,34.71 482.45,34.88" stroke-width="1.1" style="stroke:#777" fill="none"/>
<polyline points="350.75,28.33 359.53,35.06 368.31,49.58 377.09,49.58 390.26,58.79 399.04,67.83 407.82,65.52 420.99,47.64 429.77,40.02 438.55,41.08 451.72,38.96 460.50,36.48 482.45,36.48" stroke-width="1.35" fill="none"/>
<rect x="348.65" y="34.91" width="4.2" height="4.2" class="f"/>
<rect x="357.43" y="45.54" width="4.2" height="4.2" class="f"/>
<rect x="366.21" y="47.66" width="4.2" height="4.2" class="f"/>
<rect x="374.99" y="47.66" width="4.2" height="4.2" class="f"/>
<rect x="388.16" y="57.22" width="4.2" height="4.2" class="f"/>
<rect x="396.94" y="66.08" width="4.2" height="4.2" class="f"/>
<rect x="405.72" y="63.78" width="4.2" height="4.2" class="f"/>
<rect x="418.89" y="49.43" width="4.2" height="4.2" class="f"/>
<rect x="427.67" y="42.53" width="4.2" height="4.2" class="f"/>
<rect x="436.45" y="44.12" width="4.2" height="4.2" class="f"/>
<rect x="449.62" y="42.35" width="4.2" height="4.2" class="f"/>
<rect x="458.40" y="32.61" width="4.2" height="4.2" class="f"/>
<rect x="480.35" y="32.78" width="4.2" height="4.2" class="f"/>
<circle cx="350.75" cy="28.33" r="2.1" class="f"/>
<circle cx="359.53" cy="35.06" r="2.1" class="f"/>
<circle cx="368.31" cy="49.58" r="2.1" class="f"/>
<circle cx="377.09" cy="49.58" r="2.1" class="f"/>
<circle cx="390.26" cy="58.79" r="2.1" class="f"/>
<circle cx="399.04" cy="67.83" r="2.1" class="f"/>
<circle cx="407.82" cy="65.52" r="2.1" class="f"/>
<circle cx="420.99" cy="47.64" r="2.1" class="f"/>
<circle cx="429.77" cy="40.02" r="2.1" class="f"/>
<circle cx="438.55" cy="41.08" r="2.1" class="f"/>
<circle cx="451.72" cy="38.96" r="2.1" class="f"/>
<circle cx="460.50" cy="36.48" r="2.1" class="f"/>
<circle cx="482.45" cy="36.48" r="2.1" class="f"/>
<line x1="491.20" y1="26.20" x2="503.70" y2="26.20" stroke-width="1.3"/>
<circle cx="497.50" cy="26.20" r="1.6" class="f"/>
<line x1="491.20" y1="35.90" x2="503.70" y2="35.90" stroke-width="1.1" style="stroke:#555"/>
<rect x="495.70" y="34.10" width="3.6" height="3.6" class="f"/>
<text x="505.80" y="28.70" font-size="7.0" style="font-weight:normal;stroke-width:0.1">WT</text>
<text x="505.60" y="38.40" font-size="7.0" style="font-weight:normal;stroke-width:0.1">KO</text>
<text x="416.40" y="128.20" font-size="7.2" text-anchor="middle">Days Post- Irradiation</text>
<text x="330.20" y="63.65" font-size="7.0" text-anchor="middle" transform="rotate(-90 330.2 63.65)">PB HCT</text>
<text x="338.80" y="63.90" font-size="8.0" text-anchor="middle" transform="rotate(-90 338.8 63.9)">%</text>
<text x="347.40" y="155.40" font-size="12">H</text>
<text x="417.30" y="152.50" font-size="8.0" text-anchor="middle">WBC</text>
<line x1="352.35" y1="162.20" x2="352.35" y2="244.80" stroke-width="1.3"/>
<line x1="351.75" y1="244.20" x2="483.36" y2="244.20" stroke-width="1.3"/>
<line x1="349.65" y1="244.20" x2="352.35" y2="244.20" stroke-width="1.05"/>
<text x="348.95" y="246.50" font-size="6.2" text-anchor="end">0</text>
<line x1="349.65" y1="230.53" x2="352.35" y2="230.53" stroke-width="1.05"/>
<text x="348.95" y="232.83" font-size="6.2" text-anchor="end">1</text>
<line x1="349.65" y1="216.86" x2="352.35" y2="216.86" stroke-width="1.05"/>
<text x="348.95" y="219.16" font-size="6.2" text-anchor="end">2</text>
<line x1="349.65" y1="203.19" x2="352.35" y2="203.19" stroke-width="1.05"/>
<text x="348.95" y="205.49" font-size="6.2" text-anchor="end">3</text>
<line x1="349.65" y1="189.52" x2="352.35" y2="189.52" stroke-width="1.05"/>
<text x="348.95" y="191.82" font-size="6.2" text-anchor="end">4</text>
<line x1="349.65" y1="175.85" x2="352.35" y2="175.85" stroke-width="1.05"/>
<text x="348.95" y="178.15" font-size="6.2" text-anchor="end">5</text>
<line x1="349.65" y1="162.18" x2="352.35" y2="162.18" stroke-width="1.05"/>
<text x="348.95" y="164.48" font-size="6.2" text-anchor="end">6</text>
<line x1="352.35" y1="244.20" x2="352.35" y2="247.20" stroke-width="1.1"/>
<text x="352.35" y="253.20" font-size="6.0" text-anchor="middle">0</text>
<line x1="356.70" y1="244.20" x2="356.70" y2="246.20" stroke-width="1.05"/>
<line x1="361.04" y1="244.20" x2="361.04" y2="246.20" stroke-width="1.05"/>
<line x1="365.39" y1="244.20" x2="365.39" y2="246.20" stroke-width="1.05"/>
<line x1="369.74" y1="244.20" x2="369.74" y2="246.20" stroke-width="1.05"/>
<line x1="374.09" y1="244.20" x2="374.09" y2="247.20" stroke-width="1.1"/>
<text x="374.09" y="253.20" font-size="6.0" text-anchor="middle">5</text>
<line x1="378.43" y1="244.20" x2="378.43" y2="246.20" stroke-width="1.05"/>
<line x1="382.78" y1="244.20" x2="382.78" y2="246.20" stroke-width="1.05"/>
<line x1="387.13" y1="244.20" x2="387.13" y2="246.20" stroke-width="1.05"/>
<line x1="391.47" y1="244.20" x2="391.47" y2="246.20" stroke-width="1.05"/>
<line x1="395.82" y1="244.20" x2="395.82" y2="247.20" stroke-width="1.1"/>
<text x="395.82" y="253.20" font-size="6.0" text-anchor="middle">10</text>
<line x1="400.17" y1="244.20" x2="400.17" y2="246.20" stroke-width="1.05"/>
<line x1="404.51" y1="244.20" x2="404.51" y2="246.20" stroke-width="1.05"/>
<line x1="408.86" y1="244.20" x2="408.86" y2="246.20" stroke-width="1.05"/>
<line x1="413.21" y1="244.20" x2="413.21" y2="246.20" stroke-width="1.05"/>
<line x1="417.56" y1="244.20" x2="417.56" y2="247.20" stroke-width="1.1"/>
<text x="417.56" y="253.20" font-size="6.0" text-anchor="middle">15</text>
<line x1="421.90" y1="244.20" x2="421.90" y2="246.20" stroke-width="1.05"/>
<line x1="426.25" y1="244.20" x2="426.25" y2="246.20" stroke-width="1.05"/>
<line x1="430.60" y1="244.20" x2="430.60" y2="246.20" stroke-width="1.05"/>
<line x1="434.94" y1="244.20" x2="434.94" y2="246.20" stroke-width="1.05"/>
<line x1="439.29" y1="244.20" x2="439.29" y2="247.20" stroke-width="1.1"/>
<text x="439.29" y="253.20" font-size="6.0" text-anchor="middle">20</text>
<line x1="443.64" y1="244.20" x2="443.64" y2="246.20" stroke-width="1.05"/>
<line x1="447.98" y1="244.20" x2="447.98" y2="246.20" stroke-width="1.05"/>
<line x1="452.33" y1="244.20" x2="452.33" y2="246.20" stroke-width="1.05"/>
<line x1="456.68" y1="244.20" x2="456.68" y2="246.20" stroke-width="1.05"/>
<line x1="461.03" y1="244.20" x2="461.03" y2="247.20" stroke-width="1.1"/>
<text x="461.03" y="253.20" font-size="6.0" text-anchor="middle">25</text>
<line x1="465.37" y1="244.20" x2="465.37" y2="246.20" stroke-width="1.05"/>
<line x1="469.72" y1="244.20" x2="469.72" y2="246.20" stroke-width="1.05"/>
<line x1="474.07" y1="244.20" x2="474.07" y2="246.20" stroke-width="1.05"/>
<line x1="478.41" y1="244.20" x2="478.41" y2="246.20" stroke-width="1.05"/>
<line x1="482.76" y1="244.20" x2="482.76" y2="247.20" stroke-width="1.1"/>
<text x="482.76" y="253.20" font-size="6.0" text-anchor="middle">30</text>
<line x1="352.35" y1="196.35" x2="352.35" y2="207.29" stroke-width="0.9"/>
<line x1="350.55" y1="196.35" x2="354.15" y2="196.35" stroke-width="0.9"/>
<line x1="350.55" y1="207.29" x2="354.15" y2="207.29" stroke-width="0.9"/>
<line x1="352.35" y1="172.16" x2="352.35" y2="180.36" stroke-width="0.9"/>
<line x1="350.55" y1="172.16" x2="354.15" y2="172.16" stroke-width="0.9"/>
<line x1="350.55" y1="180.36" x2="354.15" y2="180.36" stroke-width="0.9"/>
<line x1="361.04" y1="232.72" x2="361.04" y2="235.45" stroke-width="0.9"/>
<line x1="359.24" y1="232.72" x2="362.84" y2="232.72" stroke-width="0.9"/>
<line x1="359.24" y1="235.45" x2="362.84" y2="235.45" stroke-width="0.9"/>
<line x1="361.04" y1="218.50" x2="361.04" y2="226.70" stroke-width="0.9"/>
<line x1="359.24" y1="218.50" x2="362.84" y2="218.50" stroke-width="0.9"/>
<line x1="359.24" y1="226.70" x2="362.84" y2="226.70" stroke-width="0.9"/>
<line x1="369.74" y1="236.82" x2="369.74" y2="239.55" stroke-width="0.9"/>
<line x1="367.94" y1="236.82" x2="371.54" y2="236.82" stroke-width="0.9"/>
<line x1="367.94" y1="239.55" x2="371.54" y2="239.55" stroke-width="0.9"/>
<line x1="369.74" y1="237.78" x2="369.74" y2="240.51" stroke-width="0.9"/>
<line x1="367.94" y1="237.78" x2="371.54" y2="237.78" stroke-width="0.9"/>
<line x1="367.94" y1="240.51" x2="371.54" y2="240.51" stroke-width="0.9"/>
<line x1="378.43" y1="237.36" x2="378.43" y2="240.10" stroke-width="0.9"/>
<line x1="376.63" y1="237.36" x2="380.23" y2="237.36" stroke-width="0.9"/>
<line x1="376.63" y1="240.10" x2="380.23" y2="240.10" stroke-width="0.9"/>
<line x1="378.43" y1="238.32" x2="378.43" y2="241.06" stroke-width="0.9"/>
<line x1="376.63" y1="238.32" x2="380.23" y2="238.32" stroke-width="0.9"/>
<line x1="376.63" y1="241.06" x2="380.23" y2="241.06" stroke-width="0.9"/>
<line x1="391.47" y1="240.24" x2="391.47" y2="241.60" stroke-width="0.9"/>
<line x1="389.67" y1="240.24" x2="393.27" y2="240.24" stroke-width="0.9"/>
<line x1="389.67" y1="241.60" x2="393.27" y2="241.60" stroke-width="0.9"/>
<line x1="391.47" y1="240.24" x2="391.47" y2="241.60" stroke-width="0.9"/>
<line x1="389.67" y1="240.24" x2="393.27" y2="240.24" stroke-width="0.9"/>
<line x1="389.67" y1="241.60" x2="393.27" y2="241.60" stroke-width="0.9"/>
<line x1="400.17" y1="232.17" x2="400.17" y2="240.37" stroke-width="0.9"/>
<line x1="398.37" y1="232.17" x2="401.97" y2="232.17" stroke-width="0.9"/>
<line x1="398.37" y1="240.37" x2="401.97" y2="240.37" stroke-width="0.9"/>
<line x1="400.17" y1="237.23" x2="400.17" y2="241.33" stroke-width="0.9"/>
<line x1="398.37" y1="237.23" x2="401.97" y2="237.23" stroke-width="0.9"/>
<line x1="398.37" y1="241.33" x2="401.97" y2="241.33" stroke-width="0.9"/>
<line x1="408.86" y1="233.81" x2="408.86" y2="236.54" stroke-width="0.9"/>
<line x1="407.06" y1="233.81" x2="410.66" y2="233.81" stroke-width="0.9"/>
<line x1="407.06" y1="236.54" x2="410.66" y2="236.54" stroke-width="0.9"/>
<line x1="408.86" y1="233.81" x2="408.86" y2="236.54" stroke-width="0.9"/>
<line x1="407.06" y1="233.81" x2="410.66" y2="233.81" stroke-width="0.9"/>
<line x1="407.06" y1="236.54" x2="410.66" y2="236.54" stroke-width="0.9"/>
<line x1="421.90" y1="191.57" x2="421.90" y2="210.71" stroke-width="0.9"/>
<line x1="420.10" y1="191.57" x2="423.70" y2="191.57" stroke-width="0.9"/>
<line x1="420.10" y1="210.71" x2="423.70" y2="210.71" stroke-width="0.9"/>
<line x1="421.90" y1="202.23" x2="421.90" y2="215.90" stroke-width="0.9"/>
<line x1="420.10" y1="202.23" x2="423.70" y2="202.23" stroke-width="0.9"/>
<line x1="420.10" y1="215.90" x2="423.70" y2="215.90" stroke-width="0.9"/>
<line x1="430.60" y1="200.18" x2="430.60" y2="213.85" stroke-width="0.9"/>
<line x1="428.80" y1="200.18" x2="432.40" y2="200.18" stroke-width="0.9"/>
<line x1="428.80" y1="213.85" x2="432.40" y2="213.85" stroke-width="0.9"/>
<line x1="430.60" y1="210.44" x2="430.60" y2="218.64" stroke-width="0.9"/>
<line x1="428.80" y1="210.44" x2="432.40" y2="210.44" stroke-width="0.9"/>
<line x1="428.80" y1="218.64" x2="432.40" y2="218.64" stroke-width="0.9"/>
<line x1="439.29" y1="198.13" x2="439.29" y2="206.33" stroke-width="0.9"/>
<line x1="437.49" y1="198.13" x2="441.09" y2="198.13" stroke-width="0.9"/>
<line x1="437.49" y1="206.33" x2="441.09" y2="206.33" stroke-width="0.9"/>
<line x1="439.29" y1="204.56" x2="439.29" y2="212.76" stroke-width="0.9"/>
<line x1="437.49" y1="204.56" x2="441.09" y2="204.56" stroke-width="0.9"/>
<line x1="437.49" y1="212.76" x2="441.09" y2="212.76" stroke-width="0.9"/>
<line x1="452.33" y1="214.13" x2="452.33" y2="219.59" stroke-width="0.9"/>
<line x1="450.53" y1="214.13" x2="454.13" y2="214.13" stroke-width="0.9"/>
<line x1="450.53" y1="219.59" x2="454.13" y2="219.59" stroke-width="0.9"/>
<line x1="452.33" y1="216.18" x2="452.33" y2="221.64" stroke-width="0.9"/>
<line x1="450.53" y1="216.18" x2="454.13" y2="216.18" stroke-width="0.9"/>
<line x1="450.53" y1="221.64" x2="454.13" y2="221.64" stroke-width="0.9"/>
<line x1="461.03" y1="200.73" x2="461.03" y2="211.67" stroke-width="0.9"/>
<line x1="459.23" y1="200.73" x2="462.83" y2="200.73" stroke-width="0.9"/>
<line x1="459.23" y1="211.67" x2="462.83" y2="211.67" stroke-width="0.9"/>
<line x1="461.03" y1="204.56" x2="461.03" y2="212.76" stroke-width="0.9"/>
<line x1="459.23" y1="204.56" x2="462.83" y2="204.56" stroke-width="0.9"/>
<line x1="459.23" y1="212.76" x2="462.83" y2="212.76" stroke-width="0.9"/>
<line x1="482.76" y1="207.29" x2="482.76" y2="210.02" stroke-width="0.9"/>
<line x1="480.96" y1="207.29" x2="484.56" y2="207.29" stroke-width="0.9"/>
<line x1="480.96" y1="210.02" x2="484.56" y2="210.02" stroke-width="0.9"/>
<line x1="482.76" y1="210.71" x2="482.76" y2="216.18" stroke-width="0.9"/>
<line x1="480.96" y1="210.71" x2="484.56" y2="210.71" stroke-width="0.9"/>
<line x1="480.96" y1="216.18" x2="484.56" y2="216.18" stroke-width="0.9"/>
<polyline points="352.35,201.82 361.04,234.08 369.74,238.19 378.43,238.73 391.47,240.92 400.17,236.27 408.86,235.18 421.90,201.14 430.60,207.02 439.29,202.23 452.33,216.86 461.03,206.20 482.76,208.66" stroke-width="1.1" style="stroke:#777" fill="none"/>
<polyline points="352.35,176.26 361.04,222.60 369.74,239.14 378.43,239.69 391.47,240.92 400.17,239.28 408.86,235.18 421.90,209.07 430.60,214.54 439.29,208.66 452.33,218.91 461.03,208.66 482.76,213.44" stroke-width="1.35" fill="none"/>
<rect x="350.25" y="199.72" width="4.2" height="4.2" class="f"/>
<rect x="358.94" y="231.98" width="4.2" height="4.2" class="f"/>
<rect x="367.64" y="236.09" width="4.2" height="4.2" class="f"/>
<rect x="376.33" y="236.63" width="4.2" height="4.2" class="f"/>
<rect x="389.37" y="238.82" width="4.2" height="4.2" class="f"/>
<rect x="398.07" y="234.17" width="4.2" height="4.2" class="f"/>
<rect x="406.76" y="233.08" width="4.2" height="4.2" class="f"/>
<rect x="419.80" y="199.04" width="4.2" height="4.2" class="f"/>
<rect x="428.50" y="204.92" width="4.2" height="4.2" class="f"/>
<rect x="437.19" y="200.13" width="4.2" height="4.2" class="f"/>
<rect x="450.23" y="214.76" width="4.2" height="4.2" class="f"/>
<rect x="458.93" y="204.10" width="4.2" height="4.2" class="f"/>
<rect x="480.66" y="206.56" width="4.2" height="4.2" class="f"/>
<circle cx="352.35" cy="176.26" r="2.1" class="f"/>
<circle cx="361.04" cy="222.60" r="2.1" class="f"/>
<circle cx="369.74" cy="239.14" r="2.1" class="f"/>
<circle cx="378.43" cy="239.69" r="2.1" class="f"/>
<circle cx="391.47" cy="240.92" r="2.1" class="f"/>
<circle cx="400.17" cy="239.28" r="2.1" class="f"/>
<circle cx="408.86" cy="235.18" r="2.1" class="f"/>
<circle cx="421.90" cy="209.07" r="2.1" class="f"/>
<circle cx="430.60" cy="214.54" r="2.1" class="f"/>
<circle cx="439.29" cy="208.66" r="2.1" class="f"/>
<circle cx="452.33" cy="218.91" r="2.1" class="f"/>
<circle cx="461.03" cy="208.66" r="2.1" class="f"/>
<circle cx="482.76" cy="213.44" r="2.1" class="f"/>
<line x1="491.40" y1="168.40" x2="503.90" y2="168.40" stroke-width="1.3"/>
<circle cx="497.70" cy="168.40" r="1.6" class="f"/>
<line x1="491.40" y1="177.80" x2="503.90" y2="177.80" stroke-width="1.1" style="stroke:#555"/>
<rect x="495.90" y="176.00" width="3.6" height="3.6" class="f"/>
<text x="506.20" y="170.90" font-size="7.0" style="font-weight:normal;stroke-width:0.1">WT</text>
<text x="506.00" y="180.30" font-size="7.0" style="font-weight:normal;stroke-width:0.1">KO</text>
<text x="417.50" y="263.30" font-size="7.1" text-anchor="middle">Days Post- Irradiation</text>
<text x="334.00" y="203.60" font-size="6.6" text-anchor="middle" transform="rotate(-90 334.0 203.6)">PB WBC</text>
<text x="343.60" y="203.30" font-size="7.3" style="font-weight:normal;stroke-width:0.1" text-anchor="middle" transform="rotate(-90 343.6 203.3)">(10<tspan dy="-3.0" font-size="4.8">3</tspan><tspan dy="3.0">/ul)</tspan></text>
<text x="348.00" y="281.20" font-size="12">I</text>
<text x="419.70" y="279.30" font-size="8.1" text-anchor="middle">Platelets</text>
<line x1="357.90" y1="289.40" x2="357.90" y2="374.25" stroke-width="1.3"/>
<line x1="357.30" y1="373.65" x2="484.41" y2="373.65" stroke-width="1.3"/>
<line x1="355.20" y1="373.65" x2="357.90" y2="373.65" stroke-width="1.05"/>
<text x="354.50" y="376.35" font-size="5.6" text-anchor="end">0</text>
<line x1="355.20" y1="366.65" x2="357.90" y2="366.65" stroke-width="1.05"/>
<text x="354.50" y="369.35" font-size="5.6" text-anchor="end">100</text>
<line x1="355.20" y1="359.64" x2="357.90" y2="359.64" stroke-width="1.05"/>
<text x="354.50" y="362.34" font-size="5.6" text-anchor="end">200</text>
<line x1="355.20" y1="352.64" x2="357.90" y2="352.64" stroke-width="1.05"/>
<text x="354.50" y="355.34" font-size="5.6" text-anchor="end">300</text>
<line x1="355.20" y1="345.63" x2="357.90" y2="345.63" stroke-width="1.05"/>
<text x="354.50" y="348.33" font-size="5.6" text-anchor="end">400</text>
<line x1="355.20" y1="338.63" x2="357.90" y2="338.63" stroke-width="1.05"/>
<text x="354.50" y="341.33" font-size="5.6" text-anchor="end">500</text>
<line x1="355.20" y1="331.63" x2="357.90" y2="331.63" stroke-width="1.05"/>
<text x="354.50" y="334.33" font-size="5.6" text-anchor="end">600</text>
<line x1="355.20" y1="324.62" x2="357.90" y2="324.62" stroke-width="1.05"/>
<text x="354.50" y="327.32" font-size="5.6" text-anchor="end">700</text>
<line x1="355.20" y1="317.62" x2="357.90" y2="317.62" stroke-width="1.05"/>
<text x="354.50" y="320.32" font-size="5.6" text-anchor="end">800</text>
<line x1="355.20" y1="310.61" x2="357.90" y2="310.61" stroke-width="1.05"/>
<text x="354.50" y="313.31" font-size="5.6" text-anchor="end">900</text>
<line x1="355.20" y1="303.61" x2="357.90" y2="303.61" stroke-width="1.05"/>
<text x="354.50" y="306.31" font-size="5.6" text-anchor="end">1000</text>
<line x1="355.20" y1="296.61" x2="357.90" y2="296.61" stroke-width="1.05"/>
<text x="354.50" y="299.31" font-size="5.6" text-anchor="end">1100</text>
<line x1="355.20" y1="289.60" x2="357.90" y2="289.60" stroke-width="1.05"/>
<text x="354.50" y="292.30" font-size="5.6" text-anchor="end">1200</text>
<line x1="357.60" y1="373.65" x2="357.60" y2="376.65" stroke-width="1.1"/>
<text x="357.60" y="382.65" font-size="6.0" text-anchor="middle">0</text>
<line x1="361.81" y1="373.65" x2="361.81" y2="375.65" stroke-width="1.05"/>
<line x1="366.01" y1="373.65" x2="366.01" y2="375.65" stroke-width="1.05"/>
<line x1="370.22" y1="373.65" x2="370.22" y2="375.65" stroke-width="1.05"/>
<line x1="374.43" y1="373.65" x2="374.43" y2="375.65" stroke-width="1.05"/>
<line x1="378.64" y1="373.65" x2="378.64" y2="376.65" stroke-width="1.1"/>
<text x="378.64" y="382.65" font-size="6.0" text-anchor="middle">5</text>
<line x1="382.84" y1="373.65" x2="382.84" y2="375.65" stroke-width="1.05"/>
<line x1="387.05" y1="373.65" x2="387.05" y2="375.65" stroke-width="1.05"/>
<line x1="391.26" y1="373.65" x2="391.26" y2="375.65" stroke-width="1.05"/>
<line x1="395.46" y1="373.65" x2="395.46" y2="375.65" stroke-width="1.05"/>
<line x1="399.67" y1="373.65" x2="399.67" y2="376.65" stroke-width="1.1"/>
<text x="399.67" y="382.65" font-size="6.0" text-anchor="middle">10</text>
<line x1="403.88" y1="373.65" x2="403.88" y2="375.65" stroke-width="1.05"/>
<line x1="408.08" y1="373.65" x2="408.08" y2="375.65" stroke-width="1.05"/>
<line x1="412.29" y1="373.65" x2="412.29" y2="375.65" stroke-width="1.05"/>
<line x1="416.50" y1="373.65" x2="416.50" y2="375.65" stroke-width="1.05"/>
<line x1="420.71" y1="373.65" x2="420.71" y2="376.65" stroke-width="1.1"/>
<text x="420.71" y="382.65" font-size="6.0" text-anchor="middle">15</text>
<line x1="424.91" y1="373.65" x2="424.91" y2="375.65" stroke-width="1.05"/>
<line x1="429.12" y1="373.65" x2="429.12" y2="375.65" stroke-width="1.05"/>
<line x1="433.33" y1="373.65" x2="433.33" y2="375.65" stroke-width="1.05"/>
<line x1="437.53" y1="373.65" x2="437.53" y2="375.65" stroke-width="1.05"/>
<line x1="441.74" y1="373.65" x2="441.74" y2="376.65" stroke-width="1.1"/>
<text x="441.74" y="382.65" font-size="6.0" text-anchor="middle">20</text>
<line x1="445.95" y1="373.65" x2="445.95" y2="375.65" stroke-width="1.05"/>
<line x1="450.15" y1="373.65" x2="450.15" y2="375.65" stroke-width="1.05"/>
<line x1="454.36" y1="373.65" x2="454.36" y2="375.65" stroke-width="1.05"/>
<line x1="458.57" y1="373.65" x2="458.57" y2="375.65" stroke-width="1.05"/>
<line x1="462.78" y1="373.65" x2="462.78" y2="376.65" stroke-width="1.1"/>
<text x="462.78" y="382.65" font-size="6.0" text-anchor="middle">25</text>
<line x1="466.98" y1="373.65" x2="466.98" y2="375.65" stroke-width="1.05"/>
<line x1="471.19" y1="373.65" x2="471.19" y2="375.65" stroke-width="1.05"/>
<line x1="475.40" y1="373.65" x2="475.40" y2="375.65" stroke-width="1.05"/>
<line x1="479.60" y1="373.65" x2="479.60" y2="375.65" stroke-width="1.05"/>
<line x1="483.81" y1="373.65" x2="483.81" y2="376.65" stroke-width="1.1"/>
<text x="483.81" y="382.65" font-size="6.0" text-anchor="middle">30</text>
<line x1="357.60" y1="297.73" x2="357.60" y2="306.13" stroke-width="0.9"/>
<line x1="355.80" y1="297.73" x2="359.40" y2="297.73" stroke-width="0.9"/>
<line x1="355.80" y1="306.13" x2="359.40" y2="306.13" stroke-width="0.9"/>
<line x1="357.60" y1="303.40" x2="357.60" y2="316.01" stroke-width="0.9"/>
<line x1="355.80" y1="303.40" x2="359.40" y2="303.40" stroke-width="0.9"/>
<line x1="355.80" y1="316.01" x2="359.40" y2="316.01" stroke-width="0.9"/>
<line x1="366.01" y1="333.66" x2="366.01" y2="342.06" stroke-width="0.9"/>
<line x1="364.21" y1="333.66" x2="367.81" y2="333.66" stroke-width="0.9"/>
<line x1="364.21" y1="342.06" x2="367.81" y2="342.06" stroke-width="0.9"/>
<line x1="366.01" y1="327.91" x2="366.01" y2="333.52" stroke-width="0.9"/>
<line x1="364.21" y1="327.91" x2="367.81" y2="327.91" stroke-width="0.9"/>
<line x1="364.21" y1="333.52" x2="367.81" y2="333.52" stroke-width="0.9"/>
<line x1="374.43" y1="331.91" x2="374.43" y2="343.11" stroke-width="0.9"/>
<line x1="372.63" y1="331.91" x2="376.23" y2="331.91" stroke-width="0.9"/>
<line x1="372.63" y1="343.11" x2="376.23" y2="343.11" stroke-width="0.9"/>
<line x1="374.43" y1="329.24" x2="374.43" y2="337.65" stroke-width="0.9"/>
<line x1="372.63" y1="329.24" x2="376.23" y2="329.24" stroke-width="0.9"/>
<line x1="372.63" y1="337.65" x2="376.23" y2="337.65" stroke-width="0.9"/>
<line x1="382.84" y1="347.17" x2="382.84" y2="351.38" stroke-width="0.9"/>
<line x1="381.04" y1="347.17" x2="384.64" y2="347.17" stroke-width="0.9"/>
<line x1="381.04" y1="351.38" x2="384.64" y2="351.38" stroke-width="0.9"/>
<line x1="382.84" y1="346.47" x2="382.84" y2="349.28" stroke-width="0.9"/>
<line x1="381.04" y1="346.47" x2="384.64" y2="346.47" stroke-width="0.9"/>
<line x1="381.04" y1="349.28" x2="384.64" y2="349.28" stroke-width="0.9"/>
<line x1="395.46" y1="352.64" x2="395.46" y2="356.84" stroke-width="0.9"/>
<line x1="393.66" y1="352.64" x2="397.26" y2="352.64" stroke-width="0.9"/>
<line x1="393.66" y1="356.84" x2="397.26" y2="356.84" stroke-width="0.9"/>
<line x1="395.46" y1="349.84" x2="395.46" y2="352.64" stroke-width="0.9"/>
<line x1="393.66" y1="349.84" x2="397.26" y2="349.84" stroke-width="0.9"/>
<line x1="393.66" y1="352.64" x2="397.26" y2="352.64" stroke-width="0.9"/>
<line x1="403.88" y1="329.24" x2="403.88" y2="337.65" stroke-width="0.9"/>
<line x1="402.08" y1="329.24" x2="405.68" y2="329.24" stroke-width="0.9"/>
<line x1="402.08" y1="337.65" x2="405.68" y2="337.65" stroke-width="0.9"/>
<line x1="403.88" y1="326.09" x2="403.88" y2="340.80" stroke-width="0.9"/>
<line x1="402.08" y1="326.09" x2="405.68" y2="326.09" stroke-width="0.9"/>
<line x1="402.08" y1="340.80" x2="405.68" y2="340.80" stroke-width="0.9"/>
<line x1="412.29" y1="304.59" x2="412.29" y2="313.00" stroke-width="0.9"/>
<line x1="410.49" y1="304.59" x2="414.09" y2="304.59" stroke-width="0.9"/>
<line x1="410.49" y1="313.00" x2="414.09" y2="313.00" stroke-width="0.9"/>
<line x1="412.29" y1="306.41" x2="412.29" y2="314.82" stroke-width="0.9"/>
<line x1="410.49" y1="306.41" x2="414.09" y2="306.41" stroke-width="0.9"/>
<line x1="410.49" y1="314.82" x2="414.09" y2="314.82" stroke-width="0.9"/>
<line x1="424.91" y1="301.02" x2="424.91" y2="310.82" stroke-width="0.9"/>
<line x1="423.11" y1="301.02" x2="426.71" y2="301.02" stroke-width="0.9"/>
<line x1="423.11" y1="310.82" x2="426.71" y2="310.82" stroke-width="0.9"/>
<line x1="424.91" y1="301.72" x2="424.91" y2="310.12" stroke-width="0.9"/>
<line x1="423.11" y1="301.72" x2="426.71" y2="301.72" stroke-width="0.9"/>
<line x1="423.11" y1="310.12" x2="426.71" y2="310.12" stroke-width="0.9"/>
<line x1="433.33" y1="323.78" x2="433.33" y2="327.28" stroke-width="0.9"/>
<line x1="431.53" y1="323.78" x2="435.13" y2="323.78" stroke-width="0.9"/>
<line x1="431.53" y1="327.28" x2="435.13" y2="327.28" stroke-width="0.9"/>
<line x1="433.33" y1="328.05" x2="433.33" y2="331.56" stroke-width="0.9"/>
<line x1="431.53" y1="328.05" x2="435.13" y2="328.05" stroke-width="0.9"/>
<line x1="431.53" y1="331.56" x2="435.13" y2="331.56" stroke-width="0.9"/>
<line x1="441.74" y1="336.25" x2="441.74" y2="340.45" stroke-width="0.9"/>
<line x1="439.94" y1="336.25" x2="443.54" y2="336.25" stroke-width="0.9"/>
<line x1="439.94" y1="340.45" x2="443.54" y2="340.45" stroke-width="0.9"/>
<line x1="441.74" y1="335.20" x2="441.74" y2="338.70" stroke-width="0.9"/>
<line x1="439.94" y1="335.20" x2="443.54" y2="335.20" stroke-width="0.9"/>
<line x1="439.94" y1="338.70" x2="443.54" y2="338.70" stroke-width="0.9"/>
<line x1="454.36" y1="349.98" x2="454.36" y2="358.38" stroke-width="0.9"/>
<line x1="452.56" y1="349.98" x2="456.16" y2="349.98" stroke-width="0.9"/>
<line x1="452.56" y1="358.38" x2="456.16" y2="358.38" stroke-width="0.9"/>
<line x1="454.36" y1="345.07" x2="454.36" y2="350.68" stroke-width="0.9"/>
<line x1="452.56" y1="345.07" x2="456.16" y2="345.07" stroke-width="0.9"/>
<line x1="452.56" y1="350.68" x2="456.16" y2="350.68" stroke-width="0.9"/>
<line x1="462.78" y1="347.74" x2="462.78" y2="351.94" stroke-width="0.9"/>
<line x1="460.98" y1="347.74" x2="464.58" y2="347.74" stroke-width="0.9"/>
<line x1="460.98" y1="351.94" x2="464.58" y2="351.94" stroke-width="0.9"/>
<line x1="462.78" y1="343.53" x2="462.78" y2="347.74" stroke-width="0.9"/>
<line x1="460.98" y1="343.53" x2="464.58" y2="343.53" stroke-width="0.9"/>
<line x1="460.98" y1="347.74" x2="464.58" y2="347.74" stroke-width="0.9"/>
<line x1="483.81" y1="338.49" x2="483.81" y2="342.69" stroke-width="0.9"/>
<line x1="482.01" y1="338.49" x2="485.61" y2="338.49" stroke-width="0.9"/>
<line x1="482.01" y1="342.69" x2="485.61" y2="342.69" stroke-width="0.9"/>
<line x1="483.81" y1="341.99" x2="483.81" y2="346.19" stroke-width="0.9"/>
<line x1="482.01" y1="341.99" x2="485.61" y2="341.99" stroke-width="0.9"/>
<line x1="482.01" y1="346.19" x2="485.61" y2="346.19" stroke-width="0.9"/>
<polyline points="357.60,301.93 366.01,337.86 374.43,337.51 382.84,349.28 395.46,354.74 403.88,333.45 412.29,308.79 424.91,305.92 433.33,325.53 441.74,338.35 454.36,354.18 462.78,349.84 483.81,340.59" stroke-width="1.1" style="stroke:#777" fill="none"/>
<polyline points="357.60,309.70 366.01,330.72 374.43,333.45 382.84,347.88 395.46,351.24 403.88,333.45 412.29,310.61 424.91,305.92 433.33,329.80 441.74,336.95 454.36,347.88 462.78,345.63 483.81,344.09" stroke-width="1.35" fill="none"/>
<rect x="355.50" y="299.83" width="4.2" height="4.2" class="f"/>
<rect x="363.91" y="335.76" width="4.2" height="4.2" class="f"/>
<rect x="372.33" y="335.41" width="4.2" height="4.2" class="f"/>
<rect x="380.74" y="347.18" width="4.2" height="4.2" class="f"/>
<rect x="393.36" y="352.64" width="4.2" height="4.2" class="f"/>
<rect x="401.78" y="331.35" width="4.2" height="4.2" class="f"/>
<rect x="410.19" y="306.69" width="4.2" height="4.2" class="f"/>
<rect x="422.81" y="303.82" width="4.2" height="4.2" class="f"/>
<rect x="431.23" y="323.43" width="4.2" height="4.2" class="f"/>
<rect x="439.64" y="336.25" width="4.2" height="4.2" class="f"/>
<rect x="452.26" y="352.08" width="4.2" height="4.2" class="f"/>
<rect x="460.68" y="347.74" width="4.2" height="4.2" class="f"/>
<rect x="481.71" y="338.49" width="4.2" height="4.2" class="f"/>
<circle cx="357.60" cy="309.70" r="2.1" class="f"/>
<circle cx="366.01" cy="330.72" r="2.1" class="f"/>
<circle cx="374.43" cy="333.45" r="2.1" class="f"/>
<circle cx="382.84" cy="347.88" r="2.1" class="f"/>
<circle cx="395.46" cy="351.24" r="2.1" class="f"/>
<circle cx="403.88" cy="333.45" r="2.1" class="f"/>
<circle cx="412.29" cy="310.61" r="2.1" class="f"/>
<circle cx="424.91" cy="305.92" r="2.1" class="f"/>
<circle cx="433.33" cy="329.80" r="2.1" class="f"/>
<circle cx="441.74" cy="336.95" r="2.1" class="f"/>
<circle cx="454.36" cy="347.88" r="2.1" class="f"/>
<circle cx="462.78" cy="345.63" r="2.1" class="f"/>
<circle cx="483.81" cy="344.09" r="2.1" class="f"/>
<line x1="492.70" y1="295.60" x2="505.20" y2="295.60" stroke-width="1.3"/>
<circle cx="499.00" cy="295.60" r="1.6" class="f"/>
<line x1="492.70" y1="305.40" x2="505.20" y2="305.40" stroke-width="1.1" style="stroke:#555"/>
<rect x="497.20" y="303.60" width="3.6" height="3.6" class="f"/>
<text x="506.50" y="298.10" font-size="7.0" style="font-weight:normal;stroke-width:0.1">WT</text>
<text x="506.30" y="307.90" font-size="7.0" style="font-weight:normal;stroke-width:0.1">KO</text>
<text x="420.80" y="392.50" font-size="7.0" text-anchor="middle">Days Post- Irradiation</text>
<text x="330.50" y="331.90" font-size="7.1" text-anchor="middle" transform="rotate(-90 330.5 331.9)">PB PLT</text>
<text x="339.10" y="331.40" font-size="7.3" style="font-weight:normal;stroke-width:0.1" text-anchor="middle" transform="rotate(-90 339.1 331.4)">(10<tspan dy="-3.0" font-size="4.8">3</tspan><tspan dy="3.0">/ul)</tspan></text>
</g>
</svg></body></html>
